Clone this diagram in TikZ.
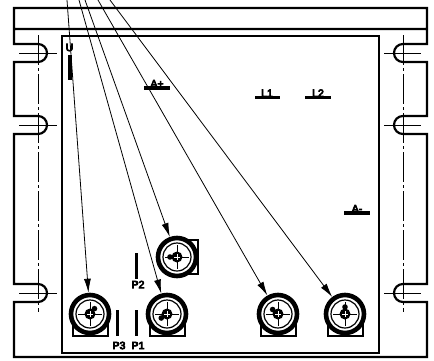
\documentclass[tikz,border=0pt]{standalone}
\usepackage{fontspec}
\newfontfamily\tagfont[FakeBold=7]{Liberation Sans}
\usetikzlibrary{arrows.meta, positioning}

\begin{document}
\begin{tikzpicture}[
    x=1pt, y=-1pt,
    frameline/.style={line width=2.2pt},
    centreline/.style={line width=0.6pt},
    longdash/.style={centreline, dash pattern=on 30pt off 3pt on 3pt off 3pt},
    bar/.style={line width=3.8pt},
    bracket/.style={line width=1.3pt},
    tag/.style={font=\tagfont\fontsize{10.5}{10.5}\selectfont, inner sep=0pt, text=black},
    motor/.style={circle, draw, line width=4.6pt, minimum size=38pt, inner sep=0pt, fill=white},
    arrow/.style={-{Latex[length=14pt, width=7pt]}, line width=0.8pt}
]

\useasboundingbox (0,0) rectangle (434,360);

% Outer plate with the six slots
\draw[frameline] (14,29) -- (14,8) -- (427,8) -- (427,44)
    -- (403,44) arc[start angle=90, end angle=270, radius=9pt] -- (427,62) -- (427,116)
    -- (403,116) arc[start angle=90, end angle=270, radius=9pt] -- (427,134) -- (427,284)
    -- (403,284) arc[start angle=90, end angle=270, radius=9pt] -- (427,302) -- (427,357)
    -- (14,357) -- (14,302)
    -- (38,302) arc[start angle=-90, end angle=90, radius=9pt] -- (14,284) -- (14,134)
    -- (38,134) arc[start angle=-90, end angle=90, radius=9pt] -- (14,116) -- (14,62)
    -- (38,62) arc[start angle=-90, end angle=90, radius=9pt] -- (14,44) -- (14,29) -- (427,29);

% Inner plate
\draw[frameline] (62,36) rectangle (379,353);

% Centre lines of the slots
\foreach \yc in {53,125,293} {
    \draw[centreline] (19,\yc) -- (57,\yc);
    \draw[centreline] (384,\yc) -- (421,\yc);
}
\draw[longdash] (38,35) -- (38,312);
\draw[longdash] (403,35) -- (403,312);

% Motor brackets
\draw[bracket] (73,314) -- (73,336) -- (108,336) -- (108,314);
\draw[bracket] (150,314) -- (150,336) -- (185,336) -- (185,314);
\draw[bracket] (261,314) -- (261,336) -- (296,336) -- (296,314);
\draw[bracket] (328,314) -- (328,336) -- (363,336) -- (363,314);
\draw[bracket] (177,240) -- (198,240) -- (198,274) -- (177,274);

% Motors
\node[motor] (m1) at (90,314) {};
\node[motor] (m2) at (167,314) {};
\node[motor] (m3) at (177,257) {};
\node[motor] (m4) at (278,314) {};
\node[motor] (m5) at (345,314) {};

\foreach \m/\ang in {m1/50, m2/215, m3/180, m4/140, m5/90} {
    \draw[line width=1.2pt] (\m) circle (14pt);
    \draw[centreline] ([xshift=-12pt]\m.center) -- ([xshift=12pt]\m.center);
    \draw[centreline] ([yshift=-12pt]\m.center) -- ([yshift=12pt]\m.center);
    \fill (\m) circle (5.5pt);
    \fill (\m) ++(\ang:7pt) circle (2.8pt);
    \draw[white, line width=0.3pt] ([xshift=-3pt]\m.center) -- ([xshift=3pt]\m.center);
    \draw[white, line width=0.3pt] ([yshift=-3pt]\m.center) -- ([yshift=3pt]\m.center);
}

% Pins and labels
\draw[bar] (70,55) -- (70,80);
\node[tag] (u) at (69.5,47.5) {U};

\draw[bar] (144,88) -- (170,88);
\node[tag, anchor=south] (ap) at (157,87.5) {A+};

\draw[bar] (255,97.5) -- (280,97.5);
\node[tag, anchor=south] (l1) at (267,97) {L1};

\draw[bar] (305,97.5) -- (331,97.5);
\node[tag, anchor=south] (l2) at (318,97) {L2};

\draw[bar] (344,213) -- (370,213);
\node[tag, anchor=south] (am) at (357,212.5) {A-};

\draw[bar] (136.5,253) -- (136.5,279);
\node[tag] (p2) at (138,284.5) {P2};

\draw[bar] (117.5,310) -- (117.5,336);
\node[tag] (p3) at (119,345.5) {P3};

\draw[bar] (136.5,310) -- (136.5,336);
\node[tag] (p1) at (138,345.5) {P1};

% Leader arrows
\coordinate (t1) at (67,0);
\coordinate (t2) at (79,0);
\coordinate (t3) at (85,0);
\coordinate (t4) at (98,0);
\coordinate (t5) at (110,0);
\draw[arrow] (t1) -- (m1);
\draw[arrow] (t2) -- (m2);
\draw[arrow] (t3) -- (m3);
\draw[arrow] (t4) -- (m4);
\draw[arrow] (t5) -- (m5);

\end{tikzpicture}
\end{document}
